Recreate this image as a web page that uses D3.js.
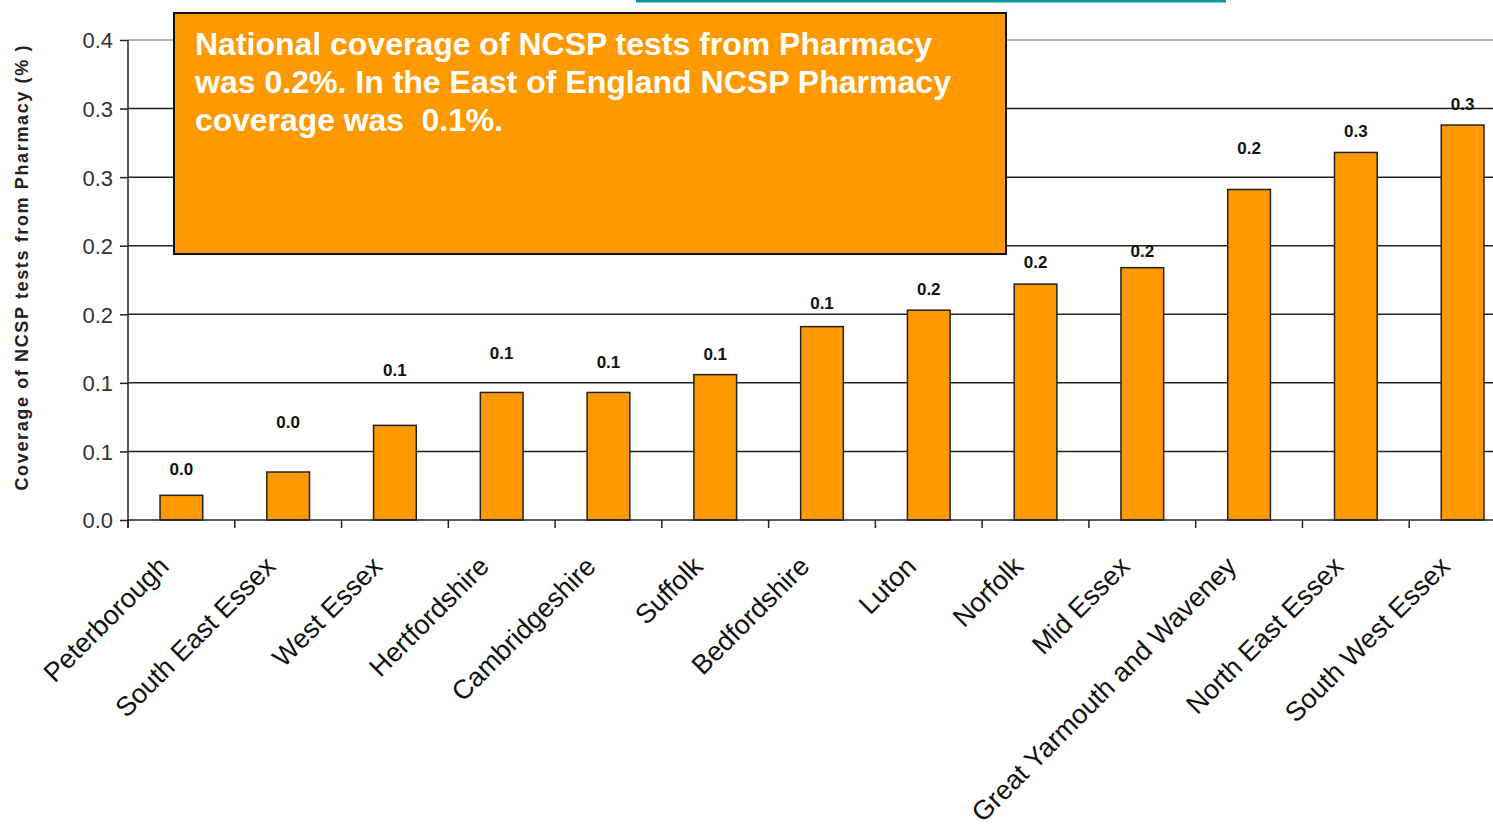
<!DOCTYPE html>
<html>
<head>
<meta charset="utf-8">
<script src="https://cdn.jsdelivr.net/npm/d3@7"></script>
<style>
  body { margin: 0; background: #fff; }
  text { font-family: "Liberation Sans", Arial, sans-serif; }
</style>
</head>
<body>
<div id="chart"></div>
<script>
// data
var areas = ["Peterborough", "South East Essex", "West Essex", "Hertfordshire", "Cambridgeshire",
  "Suffolk", "Bedfordshire", "Luton", "Norfolk", "Mid Essex", "Great Yarmouth and Waveney",
  "North East Essex", "South West Essex"];
var coverage = [0.018, 0.035, 0.069, 0.093, 0.093, 0.106, 0.141, 0.153, 0.172, 0.184, 0.241, 0.268, 0.288];
var valueLabels = ["0.0", "0.0", "0.1", "0.1", "0.1", "0.1", "0.1", "0.2", "0.2", "0.2", "0.2", "0.3", "0.3"];
var yTicks = [0, 0.05, 0.1, 0.15, 0.2, 0.25, 0.3, 0.35];
var yTickLabels = ["0.0", "0.1", "0.1", "0.2", "0.2", "0.3", "0.3", "0.4"];
var noteLines = ["National coverage of NCSP tests from Pharmacy",
  "was 0.2%. In the East of England NCSP Pharmacy",
  "coverage was  0.1%."];

// labels in the original sit at uneven heights above the bars (pixels)
var labelLift = [26, 50, 55, 39, 30, 21, 24, 21, 22, 17, 41, 21, 21];

var W = 1493, H = 826;
var margin = {top: 40, left: 128},
    plotW = 1388, // plot runs past the right edge of the picture
    baseY = 520;

var svg = d3.select("#chart").append("svg")
    .attr("width", W)
    .attr("height", H);

var x = d3.scaleBand()
    .domain(areas)
    .range([margin.left, margin.left + plotW])
    .paddingInner(0.6)
    .paddingOuter(0.3);

var step = x.step();

var y = d3.scaleLinear()
    .domain([0, 0.35])
    .range([baseY, margin.top]);

// gridlines
svg.append("g")
    .selectAll("line")
    .data(yTicks.slice(1))
    .enter().append("line")
    .attr("x1", margin.left)
    .attr("x2", margin.left + plotW)
    .attr("y1", function(d) { return y(d); })
    .attr("y2", function(d) { return y(d); })
    .attr("stroke", function(d, i) { return i == yTicks.length - 2 ? "#999" : "#222"; })
    .attr("stroke-width", 1.5);

// y axis
var yAxis = d3.axisLeft(y)
    .tickValues(yTicks)
    .tickSize(8)
    .tickFormat(function(d, i) { return yTickLabels[i]; });

var gy = svg.append("g")
    .attr("transform", "translate(" + margin.left + ",0)")
    .call(yAxis);
gy.select(".domain").remove();
gy.selectAll("line").attr("stroke", "#222").attr("stroke-width", 1.5);
gy.selectAll("text")
    .attr("x", -15)
    .attr("dy", "0.36em")
    .style("font-size", "22px")
    .attr("fill", "#333");

svg.append("line")
    .attr("x1", margin.left).attr("x2", margin.left)
    .attr("y1", margin.top).attr("y2", baseY + 8)
    .attr("stroke", "#222").attr("stroke-width", 1.5);

// bars
svg.append("g")
    .selectAll("rect")
    .data(coverage)
    .enter().append("rect")
    .attr("x", function(d, i) { return x(areas[i]); })
    .attr("width", x.bandwidth())
    .attr("y", function(d) { return y(d); })
    .attr("height", function(d) { return baseY - y(d); })
    .attr("fill", "#FF9900")
    .attr("stroke", "#222")
    .attr("stroke-width", 1.5);

// value labels
svg.append("g")
    .selectAll("text")
    .data(coverage)
    .enter().append("text")
    .attr("x", function(d, i) { return x(areas[i]) + x.bandwidth() / 2; })
    .attr("y", function(d, i) { return y(d) - labelLift[i]; })
    .attr("dy", "0.35em")
    .attr("text-anchor", "middle")
    .style("font-size", "17px")
    .style("font-weight", "bold")
    .attr("fill", "#111")
    .text(function(d, i) { return valueLabels[i]; });

// x axis baseline and ticks between categories
svg.append("line")
    .attr("x1", margin.left).attr("x2", margin.left + plotW)
    .attr("y1", baseY).attr("y2", baseY)
    .attr("stroke", "#222").attr("stroke-width", 1.5);

svg.append("g")
    .selectAll("line")
    .data(areas)
    .enter().append("line")
    .attr("x1", function(d) { return x(d) - x.paddingOuter() * step; })
    .attr("x2", function(d) { return x(d) - x.paddingOuter() * step; })
    .attr("y1", baseY).attr("y2", baseY + 8)
    .attr("stroke", "#222").attr("stroke-width", 1.5);

// category labels
svg.append("g")
    .selectAll("text")
    .data(areas)
    .enter().append("text")
    .attr("transform", function(d) {
      return "translate(" + (x(d) + x.bandwidth() / 2 - 11) + "," + (baseY + 48) + ") rotate(-45)";
    })
    .attr("text-anchor", "end")
    .style("font-size", "27px")
    .attr("fill", "#111")
    .text(function(d) { return d; });

// y axis title
svg.append("text")
    .attr("transform", "translate(28,268) rotate(-90)")
    .attr("text-anchor", "middle")
    .attr("textLength", 445)
    .attr("lengthAdjust", "spacing")
    .style("font-size", "18px")
    .style("font-weight", "bold")
    .attr("fill", "#222")
    .text("Coverage of NCSP tests from Pharmacy (% )");

// note box
svg.append("rect")
    .attr("x", 174).attr("y", 13)
    .attr("width", 832).attr("height", 241)
    .attr("fill", "#FF9900")
    .attr("stroke", "#111")
    .attr("stroke-width", 2);

var noteWidths = [737, 756, 308];
svg.append("g")
    .selectAll("text")
    .data(noteLines)
    .enter().append("text")
    .attr("x", 195)
    .attr("y", function(d, i) { return 55 + i * 38; })
    .attr("textLength", function(d, i) { return noteWidths[i]; })
    .attr("lengthAdjust", "spacingAndGlyphs")
    .style("font-family", "'Liberation Sans Narrow', 'Liberation Sans', Arial, sans-serif")
    .style("font-size", "31px")
    .style("font-weight", "bold")
    .style("white-space", "pre")
    .attr("fill", "#fff")
    .text(function(d) { return d; });

// slide rule at the very top
svg.append("line")
    .attr("x1", 636).attr("x2", 1226)
    .attr("y1", 1).attr("y2", 1)
    .attr("stroke", "#009999")
    .attr("stroke-width", 3);
</script>
</body>
</html>
